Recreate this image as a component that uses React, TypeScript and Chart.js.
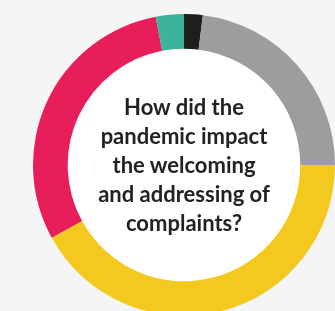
import React, { useEffect, useRef } from "react";
import { Chart, registerables } from "chart.js";

Chart.register(...registerables);

const categories = ["Black", "Gray", "Yellow", "Red", "Teal"];
const values = [2, 23, 42, 30, 3];
const colors = ["#1e1e1c", "#9d9d9c", "#f3c91f", "#e71e5a", "#3cb49b"];
const centerLines = [
  "How did the",
  "pandemic impact",
  "the welcoming",
  "and addressing of",
  "complaints?",
];

const innerFill = {
  id: "innerFill",
  beforeDatasetsDraw(chart: any) {
    const meta = chart.getDatasetMeta(0);
    const arc = meta.data[0];
    if (!arc) return;
    const { x, y, innerRadius } = arc.getProps(["x", "y", "innerRadius"], true);
    const ctx = chart.ctx;
    ctx.save();
    ctx.beginPath();
    ctx.arc(x, y, innerRadius + 0.5, 0, Math.PI * 2);
    ctx.fillStyle = "#ffffff";
    ctx.fill();
    ctx.restore();
  },
};

export default function App() {
  const ref = useRef<HTMLCanvasElement | null>(null);

  useEffect(() => {
    document.body.style.margin = "0";
    document.body.style.overflow = "hidden";
    const chart = new Chart(ref.current as HTMLCanvasElement, {
      type: "doughnut",
      data: {
        labels: categories,
        datasets: [
          {
            data: values,
            backgroundColor: colors,
            borderWidth: 0,
          },
        ],
      },
      options: {
        responsive: false,
        animation: false,
        cutout: "77%",
        layout: { padding: 0 },
        plugins: {
          legend: { display: false },
          tooltip: { enabled: false },
        },
      },
      plugins: [innerFill],
    });
    return () => chart.destroy();
  }, []);

  return (
    <div
      style={{
        position: "fixed",
        left: 0,
        top: 0,
        width: 335,
        height: 311,
        overflow: "hidden",
        background: "#f5f5f5",
      }}
    >
      <canvas
        ref={ref}
        width={302}
        height={302}
        style={{ position: "absolute", left: 33, top: 14, width: 302, height: 302 }}
      />
      <div
        style={{
          position: "absolute",
          left: 74,
          top: 91.5,
          width: 220,
          textAlign: "center",
          fontFamily: "Lato, sans-serif",
          fontWeight: 700,
          fontSize: 22,
          lineHeight: "29px",
          color: "#222222",
          whiteSpace: "nowrap",
        }}
      >
        {centerLines.map((l, i) => (
          <div key={i}>{l}</div>
        ))}
      </div>
    </div>
  );
}
